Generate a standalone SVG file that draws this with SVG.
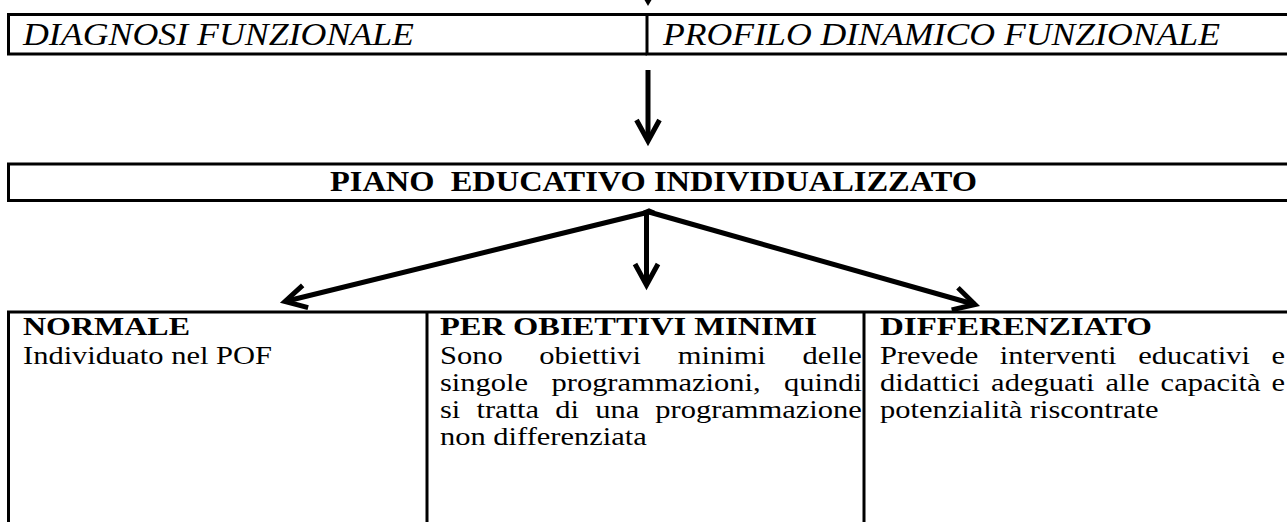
<svg xmlns="http://www.w3.org/2000/svg" width="1287" height="522" viewBox="0 0 1287 522">
<style>
.b{stroke:#000;stroke-width:3;fill:none}
.t{font-family:"Liberation Serif","Times New Roman",serif;fill:#000}
.it{font-style:italic;font-weight:normal;font-size:32px}
.pi{font-weight:bold;font-size:30px}
.hd{font-weight:bold;font-size:25.8px}
.bd{font-size:24.4px}
.c{stroke:#000;fill:none;stroke-width:5}
</style>
<defs>
<marker id="chev" viewBox="-26 -16 30 32" refX="0" refY="0" markerWidth="30" markerHeight="32" markerUnits="userSpaceOnUse" orient="auto" overflow="visible">
<path d="M-21,-11.5 L0,0 L-21,11.5" fill="none" stroke="#000" stroke-width="5" stroke-linejoin="miter"/>
</marker>
</defs>
<rect width="1287" height="522" fill="#fff"/>
<g id="diagnosi">
<path class="b" d="M8.5,14.5 H647 M8.5,54 H647 M8.5,13 V55.5"/>
<text class="t it" x="23" y="45" textLength="391" lengthAdjust="spacingAndGlyphs">DIAGNOSI FUNZIONALE</text>
</g>
<g id="profilo">
<path class="b" d="M647,14.5 H1290 M647,54 H1290 M647,13 V55.5"/>
<text class="t it" x="663" y="45" textLength="557" lengthAdjust="spacingAndGlyphs">PROFILO DINAMICO FUNZIONALE</text>
</g>
<g id="pei">
<path class="b" d="M7,164 H1290 M7,200.5 H1290 M8.5,164 V200.5"/>
<text class="t pi" x="330" y="191" textLength="647" lengthAdjust="spacingAndGlyphs" xml:space="preserve">PIANO  EDUCATIVO INDIVIDUALIZZATO</text>
</g>
<g id="normale">
<path class="b" d="M7,312 H427 M8.5,312 V522"/>
<text class="t hd" x="23" y="335" textLength="167" lengthAdjust="spacingAndGlyphs">NORMALE</text>
<text class="t bd" x="23" y="364" transform="matrix(1.25,0,0,1,-5.75,0)">Individuato nel POF</text>
</g>
<g id="minimi">
<path class="b" d="M427,312 H864 M427,312 V522"/>
<text class="t hd" x="440" y="335" textLength="377" lengthAdjust="spacingAndGlyphs">PER OBIETTIVI MINIMI</text>
<g transform="matrix(1.25,0,0,1,-110,0)">
<text class="t bd" y="364"><tspan x="440">Sono</tspan><tspan x="519.5">obiettivi</tspan><tspan x="630.2">minimi</tspan><tspan x="730.1">delle</tspan></text>
<text class="t bd" y="391"><tspan x="440">singole</tspan><tspan x="529.2">programmazioni,</tspan><tspan x="715.2">quindi</tspan></text>
<text class="t bd" y="418"><tspan x="440">si</tspan><tspan x="469.2">tratta</tspan><tspan x="532.2">di</tspan><tspan x="564.2">una</tspan><tspan x="612.2">programmazione</tspan></text>
<text class="t bd" x="440" y="445">non differenziata</text>
</g>
</g>
<g id="differenziato">
<path class="b" d="M864,312 H1290 M864,312 V522"/>
<text class="t hd" x="880" y="335" textLength="272" lengthAdjust="spacingAndGlyphs">DIFFERENZIATO</text>
<g transform="matrix(1.25,0,0,1,-220,0)">
<text class="t bd" y="364"><tspan x="880">Prevede</tspan><tspan x="975.8">interventi</tspan><tspan x="1086.6">educativi</tspan><tspan x="1193.2">e</tspan></text>
<text class="t bd" y="391"><tspan x="880">didattici</tspan><tspan x="968.9">adeguati</tspan><tspan x="1060.4">alle</tspan><tspan x="1104.5">capacità</tspan><tspan x="1193.3">e</tspan></text>
<text class="t bd" x="880" y="418">potenzialità riscontrate</text>
</g>
</g>
<g id="connectors">
<polygon points="644.5,0 651.5,0 648,6" fill="#000"/>
<line class="c" x1="648" y1="70" x2="648" y2="141" stroke-width="5.5" marker-end="url(#chev)"/>
<line class="c" x1="649" y1="212" x2="285" y2="301.5" marker-end="url(#chev)"/>
<line class="c" x1="646.5" y1="212" x2="646.5" y2="285" stroke-width="4" marker-end="url(#chev)"/>
<line class="c" x1="649" y1="212" x2="975" y2="304.5" marker-end="url(#chev)"/>
<path class="c" d="M644,213 L649,211 L654,213" stroke-width="4"/>
</g>
</svg>
